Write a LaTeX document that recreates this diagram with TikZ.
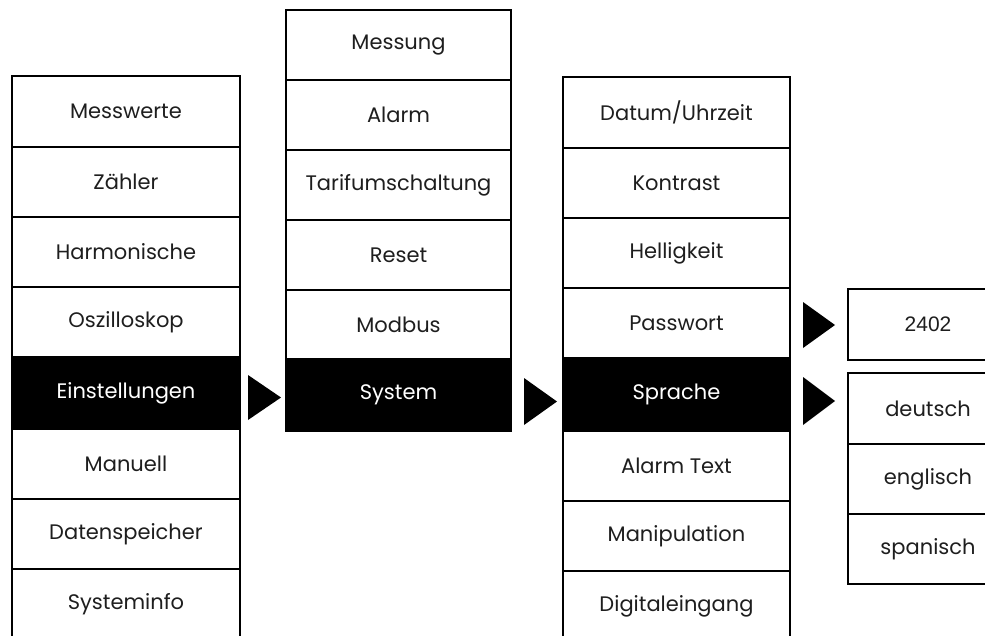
\documentclass[tikz,border=0pt]{standalone}
\usepackage{fontspec}
\setmainfont{Poppins}
\newfontfamily\numfont{Liberation Sans}
\definecolor{txt}{HTML}{1E1E1E}
\tikzset{
  cell/.style={draw=black, line width=1.8pt, inner sep=0pt, text=txt,
    font=\fontsize{21}{24}\selectfont},
  numcell/.style={cell, font=\numfont\fontsize{21}{24}\selectfont},
  dark/.style={cell, fill=black, text=white},
  tri/.style={fill=black}
}
% \mkcell{style}{name}{x1}{y1}{x2}{y2}{text}
\newcommand{\mkcell}[7]{%
  \node[#1, minimum width={(#5-#3)*1pt}, minimum height={(#6-#4)*1pt}]
    (#2) at ({(#3+#5)/2},{(#4+#6)/2}) {#7};}
\begin{document}
\begin{tikzpicture}[x=1pt,y=-1pt]
\useasboundingbox (0,0) rectangle (985,635);
\clip (0,0) rectangle (985,635);
% column 1
\mkcell{cell}{a1}{12}{76}{240}{147}{Messwerte}
\mkcell{cell}{a2}{12}{147}{240}{217}{Zähler}
\mkcell{cell}{a3}{12}{217}{240}{287}{Harmonische}
\mkcell{cell}{a4}{12}{287}{240}{357}{Oszilloskop}
\mkcell{dark}{a5}{12}{357}{240}{429}{Einstellungen}
\mkcell{cell}{a6}{12}{429}{240}{499}{Manuell}
\mkcell{cell}{a7}{12}{499}{240}{569}{Datenspeicher}
\mkcell{cell}{a8}{12}{569}{240}{640}{Systeminfo}
% column 2
\mkcell{cell}{b1}{286}{10}{511}{80}{Messung}
\mkcell{cell}{b2}{286}{80}{511}{150}{Alarm}
\mkcell{cell}{b3}{286}{150}{511}{220}{Tarifumschaltung}
\mkcell{cell}{b4}{286}{220}{511}{290}{Reset}
\mkcell{cell}{b5}{286}{290}{511}{359}{Modbus}
\mkcell{dark}{b6}{286}{359}{511}{431}{System}
% column 3
\mkcell{cell}{c1}{563}{77}{790}{148}{Datum/Uhrzeit}
\mkcell{cell}{c2}{563}{148}{790}{218}{Kontrast}
\mkcell{cell}{c3}{563}{218}{790}{288}{Helligkeit}
\mkcell{cell}{c4}{563}{288}{790}{358}{Passwort}
\mkcell{dark}{c5}{563}{358}{790}{431}{Sprache}
\mkcell{cell}{c6}{563}{431}{790}{501}{Alarm Text}
\mkcell{cell}{c7}{563}{501}{790}{571}{Manipulation}
\mkcell{cell}{c8}{563}{571}{790}{641}{Digitaleingang}
% column 4
\mkcell{numcell}{d0}{848}{289}{1008}{360}{2402}
\mkcell{cell}{d1}{848}{373}{1008}{444}{deutsch}
\mkcell{cell}{d2}{848}{444}{1008}{514}{englisch}
\mkcell{cell}{d3}{848}{514}{1008}{584}{spanisch}
% triangles
\fill[tri] (248,375) -- (281,397.5) -- (248,420) -- cycle;
\fill[tri] (524,378) -- (557,401.5) -- (524,425) -- cycle;
\fill[tri] (803,302) -- (835,325) -- (803,348) -- cycle;
\fill[tri] (803,377) -- (835,401) -- (803,425) -- cycle;
\end{tikzpicture}
\end{document}
